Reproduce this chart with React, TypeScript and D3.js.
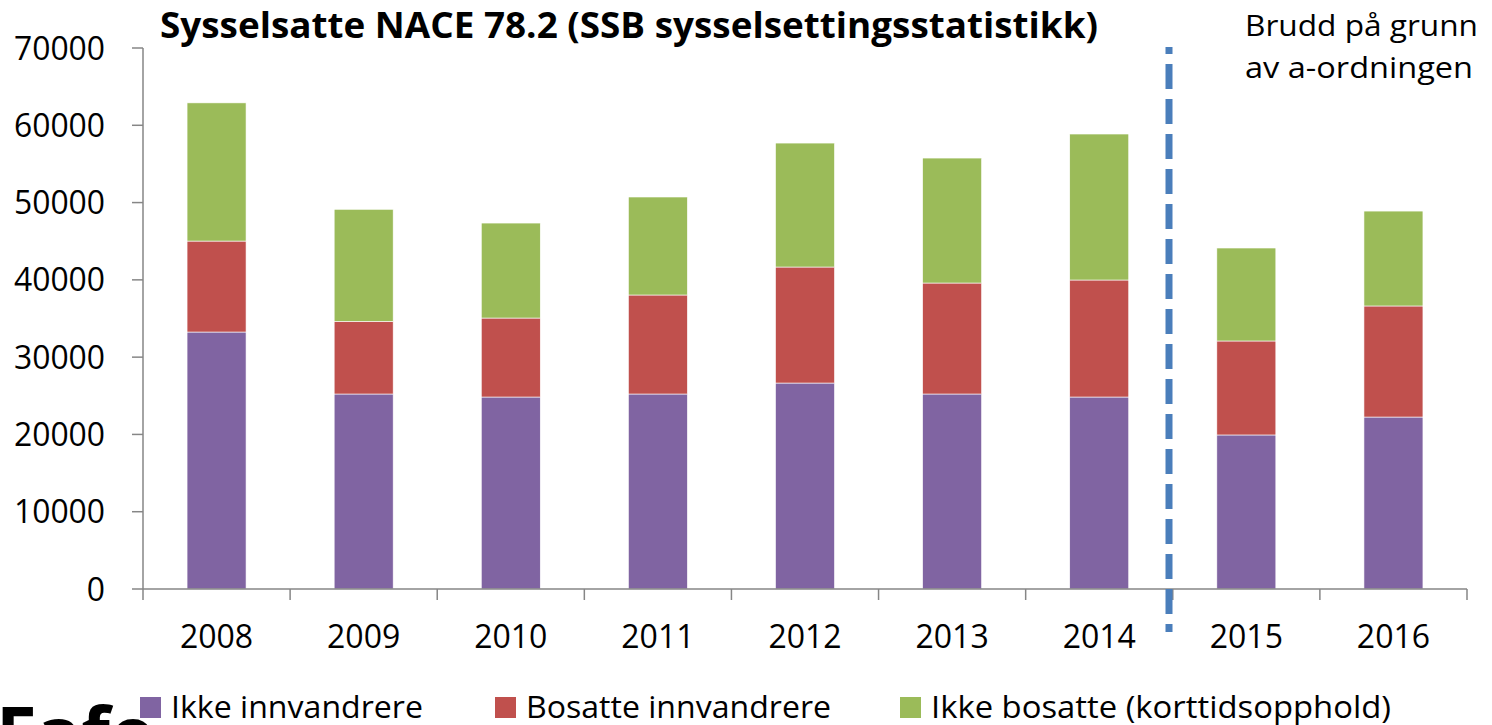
import React from "react";
import * as d3 from "d3";

const years = ["2008", "2009", "2010", "2011", "2012", "2013", "2014", "2015", "2016"];
const ikkeInnvandrere = [33250, 25230, 24840, 25230, 26650, 25230, 24840, 19930, 22250];
const bosatteInnvandrere = [11770, 9400, 10220, 12810, 15010, 14360, 15140, 12160, 14370];
const ikkeBosatte = [17880, 14500, 12290, 12680, 16040, 16170, 18890, 12030, 12280];
const seriesNames = ["Ikke innvandrere", "Bosatte innvandrere", "Ikke bosatte (korttidsopphold)"];
const seriesColors = ["#8064A2", "#C0504D", "#9BBB59"];
const yTicks = [0, 10000, 20000, 30000, 40000, 50000, 60000, 70000];

const W = 1492, H = 725;
const FONT = "'Open Sans', sans-serif";

export default function App() {
  const xb = d3.scaleBand<string>().domain(years).range([143, 1467]);
  const y = d3.scaleLinear().domain([0, 70000]).range([589, 48]);

  const rows = years.map((yr, i) => ({
    year: yr,
    a: ikkeInnvandrere[i],
    b: bosatteInnvandrere[i],
    c: ikkeBosatte[i],
  }));
  const stack = d3.stack<any>().keys(["a", "b", "c"])(rows);
  const bw = 59;
  const axisColor = "#868686";

  const legendItems = [
    { sx: 140, tx: 171, tl: 252 },
    { sx: 495, tx: 526, tl: 305 },
    { sx: 900, tx: 931, tl: 460 },
  ];

  return (
    <svg width={W} height={H} style={{ position: "absolute", left: 0, top: 0, background: "#fff" }} fontFamily={FONT}>
      <rect x={0} y={0} width={W} height={H} fill="#fff" />
      {stack.map((layer, si) =>
        layer.map((d, i) => (
          <rect
            key={`${si}-${i}`}
            x={xb(years[i])! + xb.bandwidth() / 2 - bw / 2}
            y={y(d[1])}
            width={bw}
            height={y(d[0]) - y(d[1])}
            fill={seriesColors[si]}
            stroke="#fff"
            strokeWidth={0.6}
          />
        ))
      )}
      {/* y axis */}
      <line x1={143} x2={143} y1={48} y2={589} stroke={axisColor} strokeWidth={1.5} />
      {yTicks.map((t) => (
        <g key={t}>
          <line x1={132} x2={143} y1={y(t)} y2={y(t)} stroke={axisColor} strokeWidth={1.5} />
          <text x={105} y={y(t) + 11.5} textAnchor="end" fontSize={32} fill="#000" textLength={String(t).length * 18.2} lengthAdjust="spacingAndGlyphs">{t}</text>
        </g>
      ))}
      {/* x axis */}
      <line x1={143} x2={1467} y1={589} y2={589} stroke={axisColor} strokeWidth={1.5} />
      {years.map((yr) => (
        <line key={yr} x1={xb(yr)!} x2={xb(yr)!} y1={589} y2={600} stroke={axisColor} strokeWidth={1.5} />
      ))}
      <line x1={1467} x2={1467} y1={589} y2={600} stroke={axisColor} strokeWidth={1.5} />
      {years.map((yr) => (
        <text key={yr} x={xb(yr)! + xb.bandwidth() / 2} y={648} textAnchor="middle" fontSize={32} fill="#000">{yr}</text>
      ))}
      {/* break line */}
      <line x1={1169} x2={1169} y1={47} y2={632} stroke="#4A7EBB" strokeWidth={7} strokeDasharray="25 10" strokeDashoffset={18} />
      {/* title */}
      <text x={160} y={38} fontSize={35} fontWeight="bold" fill="#000" textLength={938} lengthAdjust="spacingAndGlyphs">
        Sysselsatte NACE 78.2 (SSB sysselsettingsstatistikk)
      </text>
      <text x={1245} y={36} fontSize={29} fill="#000" textLength={233} lengthAdjust="spacingAndGlyphs">Brudd på grunn</text>
      <text x={1245} y={78} fontSize={29} fill="#000" textLength={228} lengthAdjust="spacingAndGlyphs">av a-ordningen</text>
      {/* legend */}
      {seriesNames.map((n, i) => (
        <g key={n}>
          <rect x={legendItems[i].sx} y={697} width={21} height={21} fill={seriesColors[i]} />
          <text x={legendItems[i].tx} y={718} fontSize={31} fill="#000" textLength={legendItems[i].tl} lengthAdjust="spacingAndGlyphs">{n}</text>
        </g>
      ))}
      {/* logo */}
      <text x={-4} y={760} fontSize={74} fontWeight="bold" fill="#000">Fafo</text>
    </svg>
  );
}
